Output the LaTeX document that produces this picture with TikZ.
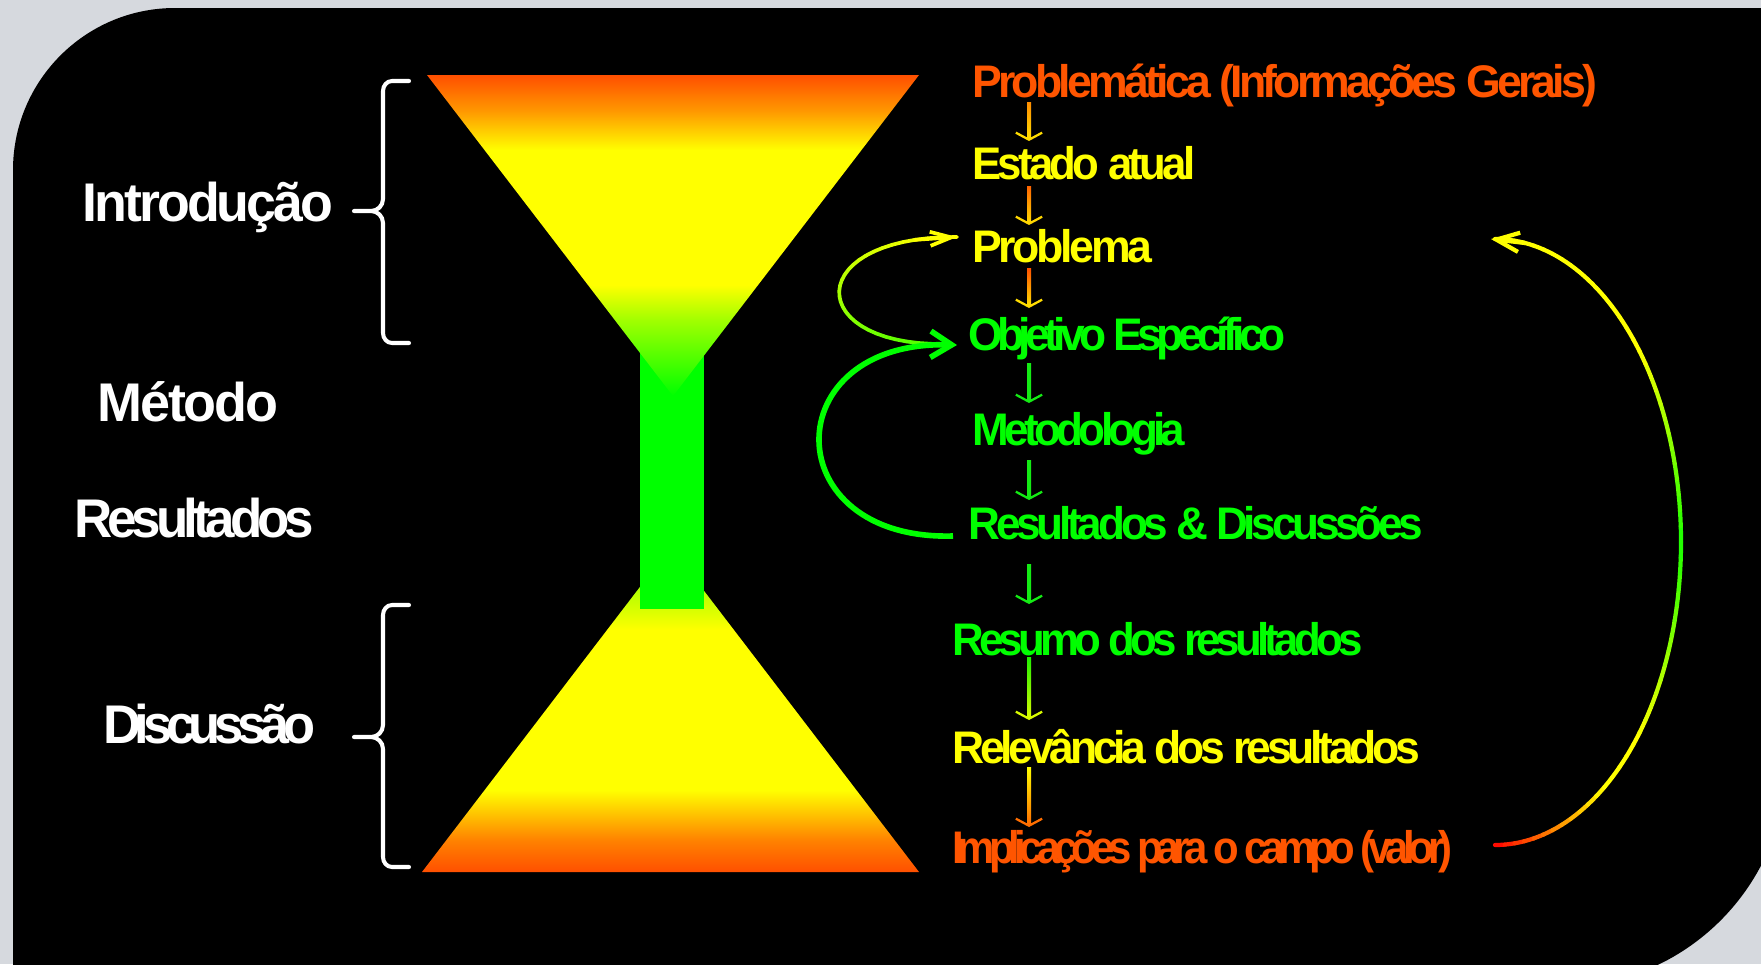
\documentclass[tikz,border=0pt]{standalone}
\usepackage{fontspec}
\setmainfont{Liberation Sans}
\usepackage{graphicx}
\usetikzlibrary{arrows.meta,calc}
\newlength\PX \setlength\PX{0.02cm}
\newcommand\sq[2]{\resizebox{#1\PX}{\height}{#2}}
\definecolor{orng}{RGB}{255,85,0}
\definecolor{yel}{RGB}{255,255,0}
\definecolor{grn}{RGB}{0,255,0}
\definecolor{bggray}{RGB}{214,217,222}
\definecolor{a1t}{RGB}{255,140,0}\definecolor{a1b}{RGB}{255,220,0}
\definecolor{a2t}{RGB}{255,100,0}\definecolor{a2b}{RGB}{255,215,0}
\definecolor{a3t}{RGB}{255,80,0}\definecolor{a3b}{RGB}{255,220,0}
\definecolor{agr}{RGB}{20,235,20}
\definecolor{a7t}{RGB}{30,240,0}\definecolor{a7b}{RGB}{215,250,0}
\definecolor{a8t}{RGB}{255,255,0}\definecolor{a8b}{RGB}{255,110,0}
\pgfdeclareverticalshading{hgtop}{100bp}{rgb(0bp)=(0,1,0); rgb(25bp)=(0,1,0); rgb(36.8bp)=(0.63,1,0); rgb(42.3bp)=(1,1,0); rgb(63.3bp)=(1,1,0); rgb(69.5bp)=(1,0.59,0); rgb(75bp)=(1,0.31,0); rgb(100bp)=(1,0.31,0)}
\pgfdeclareverticalshading{hgbot}{100bp}{rgb(0bp)=(1,0.31,0); rgb(25bp)=(1,0.31,0); rgb(29.9bp)=(1,0.51,0); rgb(37.6bp)=(1,1,0); rgb(62.2bp)=(1,1,0); rgb(68.4bp)=(0.7,1,0); rgb(75bp)=(0.12,1,0); rgb(100bp)=(0.12,1,0)}
\newcommand\varrow[6]{%
  \draw[varr, draw=#6] ($(#1.base -| ax)+(0,-#2)$) coordinate (vs) -- ($(#3.base -| ax)+(0,#4)$) coordinate (ve);
  \shade[top color=#5, bottom color=#6] ($(vs)+(-2,0)$) rectangle ($(ve)+(2,3)$);
}
\begin{document}
\begin{tikzpicture}[x=0.02cm, y=0.02cm,
  lbl/.style={anchor=base west, inner sep=0pt, text=white, font=\bfseries\fontsize{31pt}{36pt}\selectfont\addfontfeatures{LetterSpace=#1}},
  lbl/.default=-7,
  itm/.style={anchor=base west, inner sep=0pt, font=\bfseries\fontsize{26pt}{30pt}\selectfont\addfontfeatures{LetterSpace=#1}},
  itm/.default=-7,
  varr/.style={line width=2.27pt, -{Straight Barb[length=4pt,width=15pt,line width=1.3pt]}},
  brace/.style={draw=white, line width=2.3pt, line join=round, line cap=round}]
\useasboundingbox (0,0) rectangle (1761,-964);
\clip (0,0) rectangle (1761,-964);
\fill[bggray] (0,0) rectangle (1761,-964);
\fill[black] (13,-987) -- (13,-170) arc[start angle=180, end angle=90, radius=162] -- (1787,-8) -- (1787,-760) arc[start angle=0, end angle=-90, radius=227] -- cycle;

% hourglass
\shade[shading=hgbot] (422,-872) -- (919,-872) -- (670.5,-547) -- cycle;
\fill[grn] (640,-340) rectangle (704,-609);
\shade[shading=hgtop] (427,-75) -- (919,-75) -- (673,-396) -- cycle;

% braces
\draw[brace] (409,-81) -- (392,-81) to[out=180,in=90] (383,-91) -- (383,-199) to[out=-90,in=0] (371,-211) -- (354,-211)
  (371,-211) to[out=0,in=90] (383,-223) -- (383,-333) to[out=-90,in=180] (392,-343) -- (409,-343);
\draw[brace] (409,-605) -- (392,-605) to[out=180,in=90] (383,-615) -- (383,-725) to[out=-90,in=0] (371,-737) -- (354,-737)
  (371,-737) to[out=0,in=90] (383,-749) -- (383,-857) to[out=-90,in=180] (392,-867) -- (409,-867);

% left labels
\node[lbl=-5.5] (intro) at (82,-221) {\sq{251}{Introdução}};
\node[lbl=-4] (metodo) at (97,-421) {\sq{181}{Método}};
\node[lbl=-9.5] (resl) at (74,-537) {\sq{240}{Resultados}};
\node[lbl=-12] (disc) at (103,-743) {\sq{212}{Discussão}};

% right items
\node[itm=-8.5, text=orng] (prob0) at (972,-97) {\sq{625}{Problemática (Informações Gerais)}};
\node[itm=-8.5, text=yel] (est) at (972,-179) {\sq{223}{Estado atual}};
\node[itm=-7.5, text=yel] (prob) at (972,-262) {\sq{180}{Problema}};
\node[itm=-12.5, text=grn] (obj) at (968,-350) {\sq{317}{Objetivo Específico}};
\node[itm=-10.5, text=grn] (met) at (972,-445) {\sq{213}{Metodologia}};
\node[itm=-9.5, text=grn] (resd) at (968,-539) {\sq{455}{Resultados \& Discussões}};
\node[itm=-11, text=grn] (resu) at (952,-655) {\sq{410}{Resumo dos resultados}};
\node[itm=-9.5, text=yel] (rel) at (952,-763) {\sq{468}{Relevância dos resultados}};
\node[itm=-14.5, text=orng] (impl) at (952,-863) {\sq{500}{Implicações para o campo (valor)}};

% vertical arrows
\coordinate (ax) at (1029,0);
\varrow{prob0}{5}{est}{38}{a1t}{a1b}
\varrow{est}{7}{prob}{37}{a2t}{a2b}
\varrow{prob}{6}{obj}{42}{a3t}{a3b}
\varrow{obj}{13}{met}{42}{agr}{agr}
\varrow{met}{15}{resd}{39}{agr}{agr}
\varrow{resd}{25}{resu}{51}{agr}{agr}
\varrow{resu}{2}{rel}{43}{a7t}{a7b}
\varrow{rel}{4}{impl}{36}{a8t}{a8b}

% curve A (Objetivo -> Problema), gradient
\coordinate (aS) at ($(obj.base west)+(-23,6)$);
\coordinate (aE) at ($(prob.base west)+(-15,25)$);
\path (aS) .. controls (802,-346) and (802,-236) .. (aE)
  foreach \i in {0,...,30}{coordinate[pos=\i/30] (pA\i)};
\foreach \i [evaluate=\i as \j using int(\i+1)] in {0,...,29}{
  \pgfmathsetmacro\rr{0.3+0.7*\i/29}
  \definecolor{segc}{rgb}{\rr,1,0}
  \draw[segc, line width=2.1pt, line cap=round] (pA\i) -- (pA\j);
}
\draw[yel, line width=2.1pt, -{Straight Barb[length=12pt,width=8pt]}] (pA27) -- (aE);

% curve B (Resultados & Discussoes -> Objetivo)
\coordinate (bS) at ($(resd.base west)+(-15,3)$);
\coordinate (bE) at ($(obj.base west)+(-11,5)$);
\draw[grn, line width=3.2pt, -{Straight Barb[length=12pt,width=15pt]}] (bS) .. controls (775,-541) and (775,-340) .. (bE);

% curve C (Implicacoes -> Problema), gradient half ellipse
\coordinate (cC) at (1495,-542);
\foreach \i in {0,...,59}{
  \pgfmathsetmacro\ta{-90+3*\i}
  \pgfmathsetmacro\tb{-90+3*(\i+1)}
  \pgfmathsetmacro\tp{(\i+0.5)/60}
  \pgfmathsetmacro\gg{min(1,\tp/0.2)}
  \pgfmathsetmacro\rr{\tp<0.28 ? 1 : (\tp<0.5 ? 1-0.9*(\tp-0.28)/0.22 : (\tp<0.72 ? 0.1+0.9*(\tp-0.5)/0.22 : 1))}
  \definecolor{segc}{rgb}{\rr,\gg,0}
  \draw[segc, line width=2.4pt, line cap=round] ($(cC)+(\ta:186 and 303)$) arc[start angle=\ta, end angle=\tb, x radius=186, y radius=303];
}
\coordinate (cTip) at (1491,-239);
\draw[yel, line width=2.4pt, -{Straight Barb[length=13pt,width=11pt]}] (1525,-243) -- (cTip);
\end{tikzpicture}
\end{document}
